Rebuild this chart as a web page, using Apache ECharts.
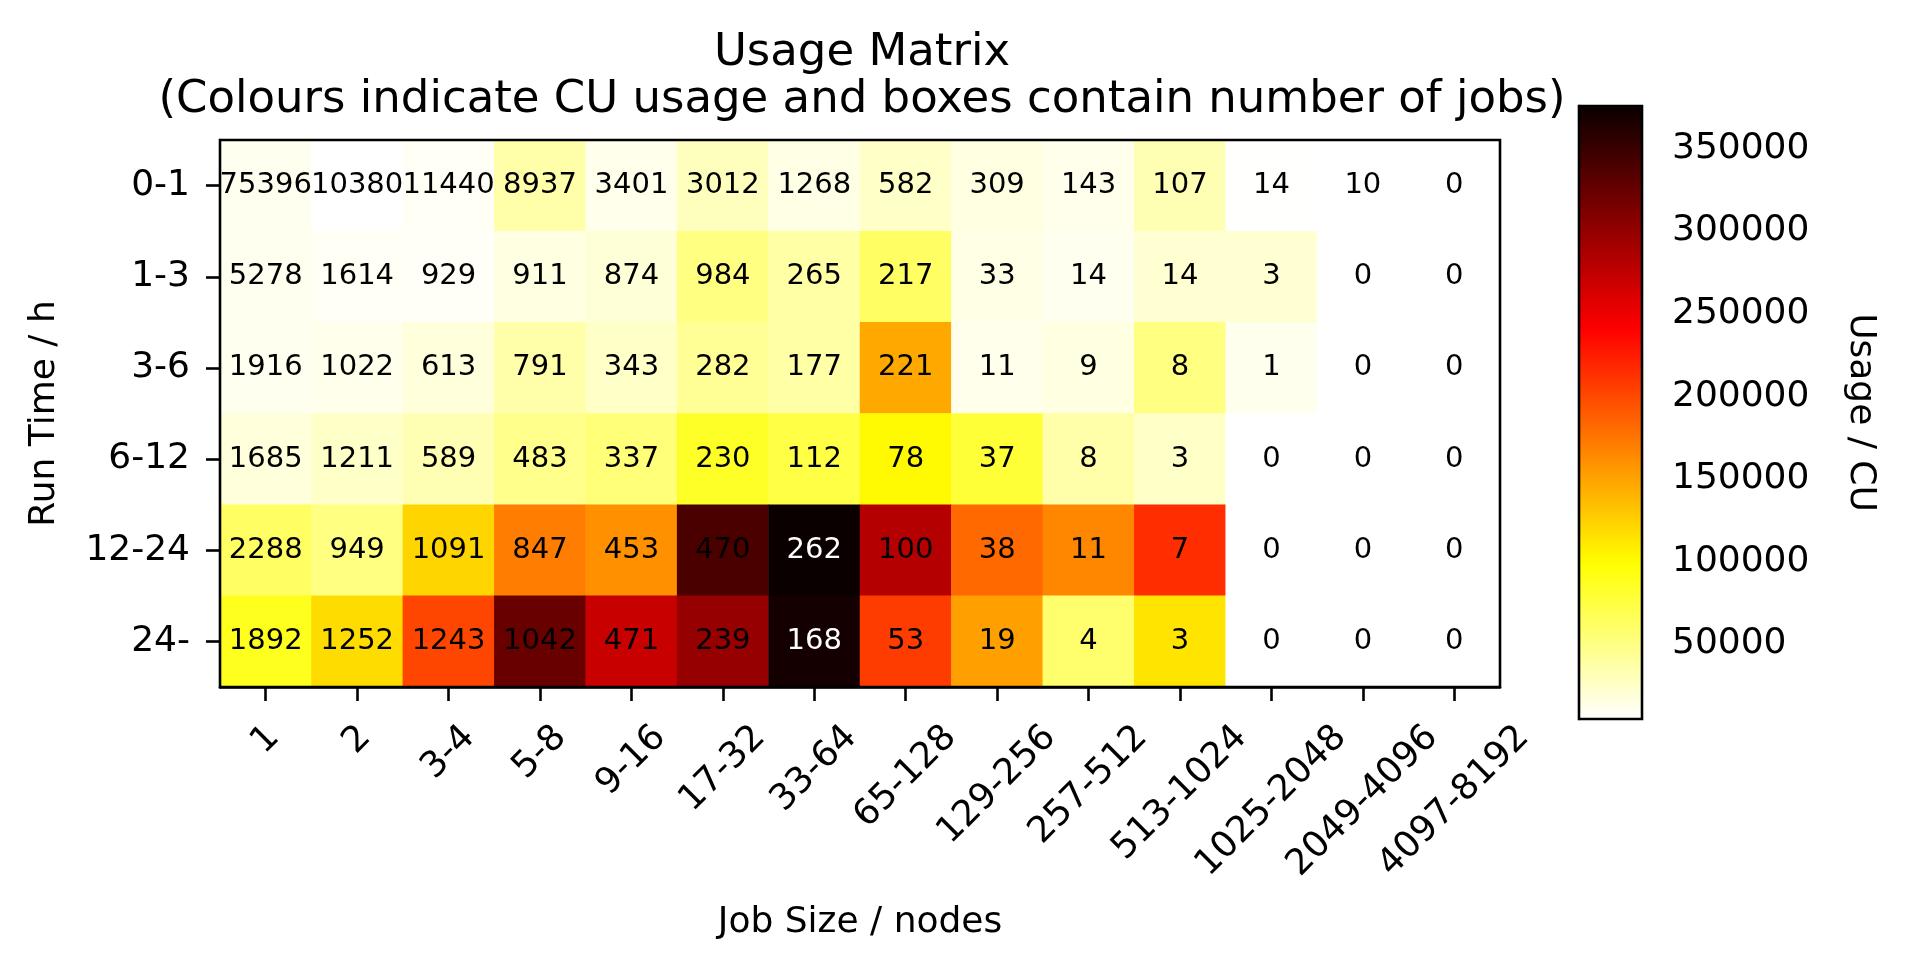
<!DOCTYPE html>
<html>
<head>
<meta charset="utf-8">
<title>Usage Matrix</title>
<script src="https://cdn.jsdelivr.net/npm/echarts@6/dist/echarts.min.js"></script>
<style>
  html, body { margin: 0; padding: 0; background: #fff; }
  #main { width: 1906px; height: 969px; }
</style>
</head>
<body>
<div id="main"></div>
<script>
// job size bins (x) and run time bins (y, top to bottom)
var jobSizes = ['1', '2', '3-4', '5-8', '9-16', '17-32', '33-64', '65-128',
  '129-256', '257-512', '513-1024', '1025-2048', '2049-4096', '4097-8192'];
var runTimes = ['0-1', '1-3', '3-6', '6-12', '12-24', '24-'];

// number of jobs (text in the boxes)
var jobs0_1   = [75396, 10380, 11440, 8937, 3401, 3012, 1268, 582, 309, 143, 107, 14, 10, 0];
var jobs1_3   = [5278, 1614, 929, 911, 874, 984, 265, 217, 33, 14, 14, 3, 0, 0];
var jobs3_6   = [1916, 1022, 613, 791, 343, 282, 177, 221, 11, 9, 8, 1, 0, 0];
var jobs6_12  = [1685, 1211, 589, 483, 337, 230, 112, 78, 37, 8, 3, 0, 0, 0];
var jobs12_24 = [2288, 949, 1091, 847, 453, 470, 262, 100, 38, 11, 7, 0, 0, 0];
var jobs24_   = [1892, 1252, 1243, 1042, 471, 239, 168, 53, 19, 4, 3, 0, 0, 0];

// CU usage (colour of the boxes)
var cu0_1   = [10200, 4640, 8400, 36200, 12100, 28800, 13900, 25000, 15800, 12100, 32500, 5000, 4800, 0];
var cu1_3   = [10200, 8400, 7200, 15800, 19500, 51000, 38000, 61800, 13900, 10200, 21300, 21300, 0, 0];
var cu3_6   = [10200, 12100, 17600, 36200, 25000, 43600, 38000, 147100, 12100, 15800, 51000, 11000, 0, 0];
var cu6_12  = [17600, 25000, 32500, 47300, 54300, 84000, 72900, 100700, 78500, 36200, 25000, 0, 0, 0];
var cu12_24 = [61800, 51000, 121900, 170800, 159700, 340000, 375580, 281700, 182000, 165300, 215300, 0, 0, 0];
var cu24_   = [87700, 118100, 201200, 323300, 270600, 298400, 370400, 206800, 151500, 58100, 113700, 0, 0, 0];

// colour bar
var cbMin = 4640;
var cbMax = 375580;
var cbTicks = [50000, 100000, 150000, 200000, 250000, 300000, 350000];

var jobCounts = [jobs0_1, jobs1_3, jobs3_6, jobs6_12, jobs12_24, jobs24_];
var usage = [cu0_1, cu1_3, cu3_6, cu6_12, cu12_24, cu24_];

var FONT = '"DejaVu Sans", "Liberation Sans", sans-serif';

// matplotlib 'hot_r'
function hotR(t) {
  var x = 1 - t;
  var r = x < 0.365079 ? 0.0416 + (1 - 0.0416) * x / 0.365079 : 1;
  var g = x < 0.365079 ? 0 : (x < 0.746032 ? (x - 0.365079) / (0.746032 - 0.365079) : 1);
  var b = x < 0.746032 ? 0 : (x - 0.746032) / (1 - 0.746032);
  return 'rgb(' + Math.round(r * 255) + ',' + Math.round(g * 255) + ',' + Math.round(b * 255) + ')';
}
var hotColors = [];
for (var i = 0; i <= 64; i++) hotColors.push(hotR(i / 64));

var cells = [];
runTimes.forEach(function (rt, r) {
  jobSizes.forEach(function (js, c) {
    cells.push({
      value: [c, r, usage[r][c], jobCounts[r][c]],
      label: { color: usage[r][c] > 355000 ? '#ffffff' : '#000000' }
    });
  });
});

// x labels: rotated 45deg with the rotated box centred under the tick (like matplotlib)
var xFont = 36, xLineH = 42;
var ctx = document.createElement('canvas').getContext('2d');
ctx.font = xFont + 'px "DejaVu Sans"';
var xRich = {};
jobSizes.forEach(function (s, i) {
  var w = ctx.measureText(s).width;
  var p = 0.5 * (w + xLineH);
  xRich['t' + i] = {
    fontSize: xFont, fontFamily: FONT, color: '#000', lineHeight: xLineH,
    padding: [p, p, 0, 0]
  };
});

var blackLine = { show: true, lineStyle: { color: '#000', width: 2.6 } };
var tickStyle = { color: '#000', width: 2.6 };

var chart = echarts.init(document.getElementById('main'));

var option = {
  backgroundColor: '#ffffff',
  animation: false,
  textStyle: { fontFamily: FONT, color: '#000' },
  title: {
    text: 'Usage Matrix\n(Colours indicate CU usage and boxes contain number of jobs)',
    left: 862,
    top: 30,
    padding: 0,
    textAlign: 'center',
    textStyle: { fontSize: 45, fontWeight: 'normal', color: '#000', lineHeight: 47, fontFamily: FONT }
  },
  grid: [
    { left: 220, top: 140, width: 1280, height: 547, show: true, borderColor: '#000', borderWidth: 2.6, z: 5, outerBoundsMode: 'none' },
    { left: 1579, top: 106, width: 63, height: 613, show: true, borderColor: '#000', borderWidth: 2.6, z: 5, outerBoundsMode: 'none' }
  ],
  xAxis: [
    {
      type: 'category',
      gridIndex: 0,
      data: jobSizes,
      axisLine: blackLine,
      axisTick: { show: true, alignWithLabel: true, length: 14, lineStyle: tickStyle },
      axisLabel: {
        interval: 0, rotate: 45, margin: 30, align: 'center', verticalAlign: 'middle',
        formatter: function (v, i) { return '{t' + i + '|' + v + '}'; },
        rich: xRich
      },
      splitLine: { show: false },
      name: 'Job Size / nodes',
      nameLocation: 'middle',
      nameGap: 218,
      nameTextStyle: { fontSize: 36, color: '#000', fontFamily: FONT }
    },
    { type: 'value', gridIndex: 1, show: false, min: 0, max: 1 }
  ],
  yAxis: [
    {
      type: 'category',
      gridIndex: 0,
      data: runTimes,
      inverse: true,
      axisLine: blackLine,
      axisTick: { show: true, alignWithLabel: true, length: 14, lineStyle: tickStyle },
      axisLabel: { fontSize: 36, color: '#000', margin: 30, fontFamily: FONT },
      splitLine: { show: false },
      name: 'Run Time / h',
      nameLocation: 'middle',
      nameGap: 157,
      nameTextStyle: { fontSize: 36, color: '#000', fontFamily: FONT }
    },
    {
      type: 'value',
      gridIndex: 1,
      position: 'right',
      min: cbMin,
      max: cbMax,
      axisLine: blackLine,
      splitLine: { show: false },
      axisTick: { show: true, customValues: cbTicks, length: 14, lineStyle: tickStyle },
      axisLabel: {
        customValues: cbTicks, fontSize: 36, color: '#000', margin: 30, fontFamily: FONT,
        formatter: function (v) { return String(v); }
      },
      name: 'Usage / CU',
      nameLocation: 'middle',
      nameRotate: -90,
      nameGap: 200,
      nameTextStyle: { fontSize: 36, color: '#000', fontFamily: FONT }
    }
  ],
  visualMap: {
    type: 'continuous',
    seriesIndex: 0,
    dimension: 2,
    min: cbMin,
    max: cbMax,
    calculable: false,
    hoverLink: false,
    left: 1579,
    top: 106,
    padding: 0,
    itemWidth: 63,
    itemHeight: 613,
    inRange: { color: hotColors },
    outOfRange: { color: ['#ffffff'] }
  },
  series: [{
    type: 'heatmap',
    xAxisIndex: 0,
    yAxisIndex: 0,
    z: 2,
    data: cells,
    label: {
      show: true,
      fontSize: 29,
      fontFamily: FONT,
      formatter: function (p) { return String(p.value[3]); }
    },
    emphasis: { disabled: true }
  }]
};

chart.setOption(option);
</script>
</body>
</html>
